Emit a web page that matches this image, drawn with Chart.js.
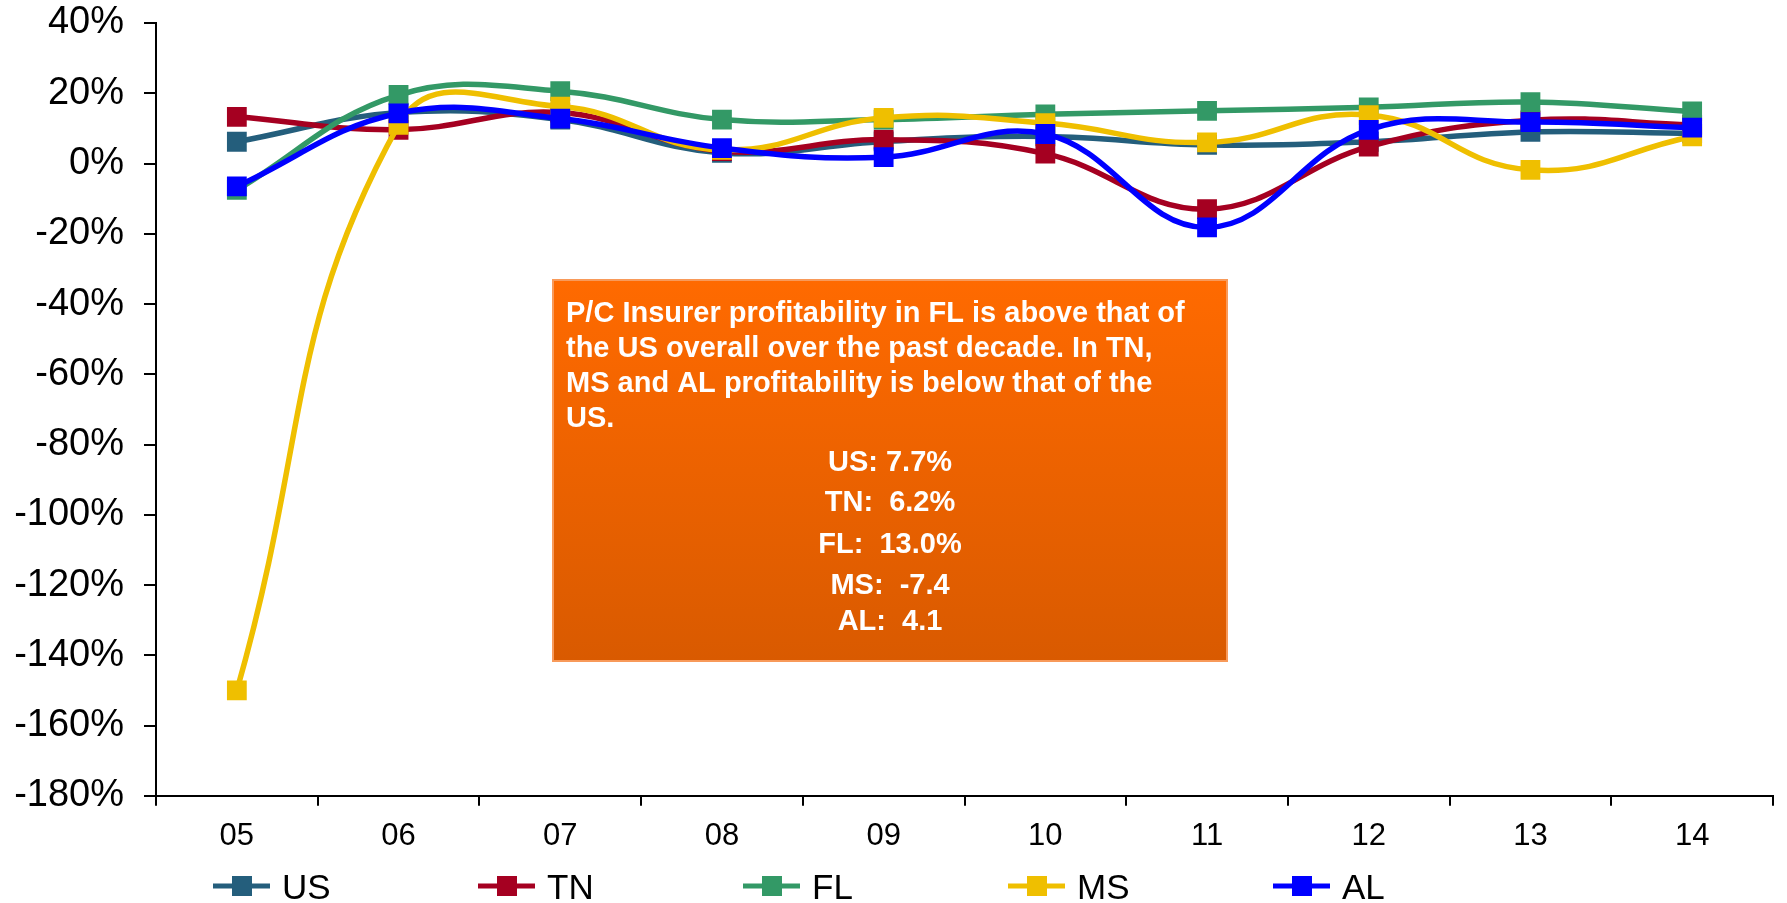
<!DOCTYPE html>
<html>
<head>
<meta charset="utf-8">
<script src="https://cdn.jsdelivr.net/npm/chart.js@4.4.1/dist/chart.umd.min.js"></script>
<style>
  html, body { margin: 0; padding: 0; background: #ffffff; }
</style>
</head>
<body>
<canvas id="profitChart" width="1787" height="903"></canvas>
<script>
// =========================
// data (return on net worth, %)
// =========================
const years = ['05', '06', '07', '08', '09', '10', '11', '12', '13', '14'];
const usValues = [6.2, 14.5, 12.5, 3.0, 6.3, 7.7, 5.3, 6.2, 9.0, 8.6];
const tnValues = [13.3, 9.6, 14.5, 3.5, 6.8, 2.8, -13.0, 4.8, 12.3, 11.0];
const flValues = [-7.5, 19.5, 20.6, 12.5, 12.5, 14.0, 15.0, 16.0, 17.5, 14.8];
const msValues = [-150.0, 11.0, 16.2, 3.9, 13.0, 11.5, 6.0, 13.8, -1.8, 7.7];
const alValues = [-6.5, 14.3, 12.8, 4.4, 1.8, 8.4, -18.2, 9.6, 11.8, 10.2];

const noteLines = [
    'P/C Insurer profitability in FL is above that of',
    'the US overall over the past decade. In TN,',
    'MS and AL profitability is below that of the',
    'US.'
];
const statLines = ['US: 7.7%', 'TN:  6.2%', 'FL:  13.0%', 'MS:  -7.4', 'AL:  4.1'];

const FONT = '"Liberation Sans", Arial, sans-serif';

// =========================
// legend drawn under the axis
// =========================
const bottomLegend = {
    id: 'bottomLegend',
    afterDraw(chart) {
        const ctx = chart.ctx;
        ctx.save();
        ctx.font = '35px ' + FONT;
        ctx.textBaseline = 'alphabetic';
        chart.data.datasets.forEach((ds, i) => {
            const x = 213 + i * 265;
            const y = 886;
            ctx.strokeStyle = ds.borderColor;
            ctx.lineWidth = 5;
            ctx.beginPath();
            ctx.moveTo(x, y);
            ctx.lineTo(x + 57, y);
            ctx.stroke();
            ctx.fillStyle = ds.borderColor;
            ctx.fillRect(x + 19, y - 10, 20, 20);
            ctx.fillStyle = '#000000';
            ctx.fillText(ds.label, x + 69, 899);
        });
        ctx.restore();
    }
};

// =========================
// orange note box
// =========================
const noteBox = {
    id: 'noteBox',
    afterDraw(chart) {
        const ctx = chart.ctx;
        const left = 553, top = 280, w = 674, h = 381;
        ctx.save();
        const grad = ctx.createLinearGradient(0, top, 0, top + h);
        grad.addColorStop(0, '#ff6a00');
        grad.addColorStop(1, '#d95a00');
        ctx.fillStyle = grad;
        ctx.fillRect(left, top, w, h);
        ctx.strokeStyle = '#f89a5a';
        ctx.lineWidth = 2;
        ctx.strokeRect(left, top, w, h);

        ctx.fillStyle = '#ffffff';
        ctx.font = 'bold 29px ' + FONT;
        ctx.textBaseline = 'middle';
        ctx.textAlign = 'left';
        noteLines.forEach((line, i) => {
            ctx.fillText(line, 566, 314 + i * 35);
        });
        ctx.textAlign = 'center';
        const statY = [463, 503, 545, 586, 622];
        statLines.forEach((line, i) => {
            ctx.fillText(line, 890, statY[i]);
        });
        ctx.restore();
    }
};

function series(label, values, color, order, tension) {
    return {
        label: label,
        data: values,
        borderColor: color,
        backgroundColor: color,
        borderWidth: 5.5,
        tension: tension,
        pointStyle: 'rect',
        pointRadius: 14,
        pointBorderWidth: 0,
        pointHoverRadius: 14,
        order: order
    };
}

const ctx = document.getElementById('profitChart').getContext('2d');
const chart = new Chart(ctx, {
    type: 'line',
    data: {
        labels: years,
        datasets: [
            series('US', usValues, '#245e7c', 4, 0.4),
            series('TN', tnValues, '#a50021', 3, 0.4),
            series('FL', flValues, '#339966', 2, 0.4),
            series('MS', msValues, '#efbf00', 1, 0.45),
            series('AL', alValues, '#0000ff', 0, 0.4)
        ]
    },
    options: {
        responsive: false,
        animation: false,
        layout: { padding: { top: 23, right: 7, bottom: 36, left: 0 } },
        plugins: {
            legend: { display: false },
            tooltip: { enabled: false }
        },
        scales: {
            x: {
                offset: true,
                grid: { offset: true, drawOnChartArea: false, tickLength: 10, color: '#000000', lineWidth: 2 },
                border: { color: '#000000', width: 2 },
                ticks: { color: '#000000', padding: 12, font: { family: FONT, size: 31 } }
            },
            y: {
                min: -180,
                max: 40,
                afterFit: (scale) => {
                    scale.width = 156;
                    scale.paddingTop = 0;
                    scale.paddingBottom = 0;
                },
                grid: { drawOnChartArea: false, tickLength: 12, color: '#000000', lineWidth: 2 },
                border: { color: '#000000', width: 2 },
                ticks: {
                    stepSize: 20,
                    color: '#000000',
                    padding: 20,
                    font: { family: FONT, size: 38 },
                    callback: (v) => v + '%'
                }
            }
        }
    },
    plugins: [noteBox, bottomLegend]
});
</script>
</body>
</html>
